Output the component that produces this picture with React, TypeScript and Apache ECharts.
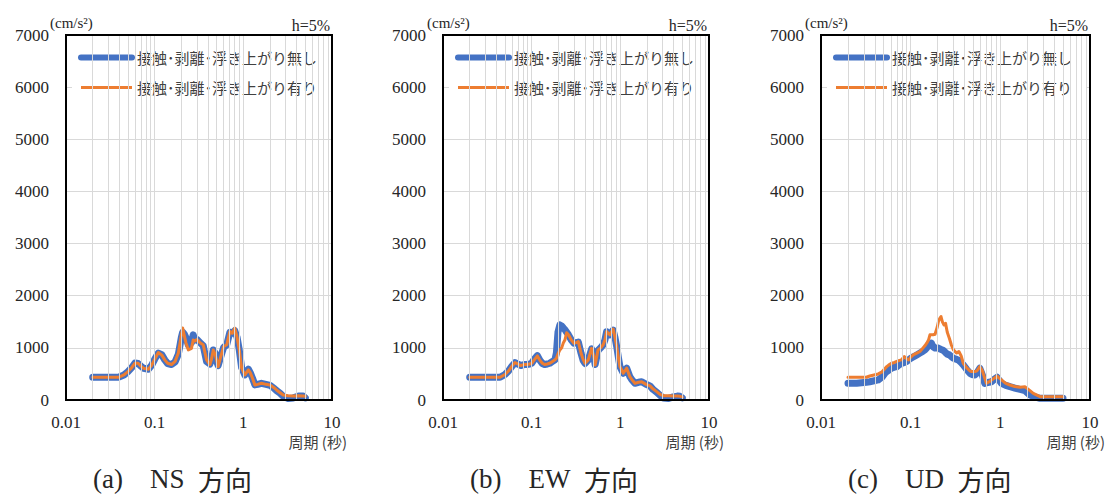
import React, { useEffect, useRef } from "react";
import * as echarts from "echarts";

const seriesNames = ["接触･剥離･浮き上がり無し", "接触･剥離･浮き上がり有り"];
const captionLatin = ["(a)\u3000NS  ", "(b)\u3000EW  ", "(c)\u3000UD  "];
const captionCJK = "方向";
const yUnit = "(cm/s²)";
const dampingLabel = "h=5%";
const xTitle = "周期 (秒)";

// NS direction
const nsPeriod = [
  0.02, 0.03, 0.039, 0.045, 0.05, 0.055, 0.06, 0.065, 0.07, 0.0745,
  0.08, 0.085, 0.092, 0.1, 0.11, 0.12, 0.13, 0.14, 0.155, 0.17,
  0.185, 0.193, 0.2, 0.207, 0.215, 0.225, 0.24, 0.26, 0.272, 0.285,
  0.3, 0.325, 0.353, 0.385, 0.42, 0.44, 0.458, 0.48, 0.5, 0.52,
  0.55, 0.6, 0.65, 0.706, 0.75, 0.8, 0.85, 0.9, 0.957, 1.04,
  1.14, 1.2, 1.27, 1.35, 1.45, 1.6, 1.8, 2.0, 2.2, 2.37,
  2.6, 2.82, 3.2, 3.66, 4.2, 4.73, 5.0,
];
const nsWith = [
  436, 436, 436, 480, 545, 620, 705, 705, 650, 610,
  600, 590, 660, 780, 910, 865, 770, 705, 680, 740,
  900, 1090, 1250, 1380, 1250, 1100, 960, 990, 1150, 1130,
  1160, 1100, 1060, 770, 680, 800, 960, 880, 770, 640,
  800, 1025, 1060, 1315, 1280, 1380, 1200, 960, 610, 480,
  577, 520, 417, 288, 300, 320, 300, 288, 240, 192,
  140, 96, 80, 77, 80, 77, 70,
];
const nsWithout = [
  436, 436, 436, 480, 545, 620, 710, 700, 650, 610,
  600, 590, 660, 780, 900, 870, 770, 700, 680, 730,
  880, 1050, 1200, 1300, 1270, 1200, 1050, 1100, 1250, 1150,
  1160, 1100, 1040, 740, 690, 800, 960, 900, 740, 660,
  800, 1010, 1060, 1300, 1280, 1330, 1200, 960, 620, 480,
  590, 520, 417, 290, 300, 320, 300, 280, 230, 180,
  130, 70, 30, 40, 75, 75, 40,
];

// EW direction
const ewPeriod = [
  0.02, 0.03, 0.044, 0.05, 0.055, 0.06, 0.065, 0.07, 0.075, 0.082,
  0.088, 0.095, 0.1, 0.108, 0.116, 0.124, 0.132, 0.14, 0.15, 0.16,
  0.172, 0.183, 0.19, 0.198, 0.208, 0.218, 0.228, 0.237, 0.248, 0.26,
  0.28, 0.3, 0.318, 0.336, 0.36, 0.38, 0.4, 0.435, 0.474, 0.5,
  0.52, 0.56, 0.6, 0.64, 0.67, 0.7, 0.76, 0.83, 0.87, 0.91,
  0.95, 0.99, 1.08, 1.18, 1.28, 1.35, 1.46, 1.6, 1.74, 1.95,
  2.16, 2.35, 2.57, 2.8, 3.05, 3.5, 3.95, 4.4, 4.7, 5.0,
];
const ewWith = [
  436, 436, 436, 490, 560, 650, 717, 690, 660, 680,
  680, 690, 705, 780, 846, 760, 705, 680, 690, 705,
  740, 770, 800, 880, 960, 1000, 1100, 1150, 1290, 1250,
  1150, 1090, 1100, 1120, 900, 780, 705, 770, 990, 850,
  673, 960, 1000, 1060, 1150, 1315, 1250, 1360, 1200, 1025,
  820, 640, 513, 610, 448, 390, 320, 340, 350, 300,
  270, 210, 160, 110, 83, 80, 77, 75, 70, 60,
];
const ewWithout = [
  436, 436, 436, 490, 560, 650, 717, 690, 660, 680,
  680, 690, 705, 790, 850, 760, 700, 680, 690, 705,
  740, 770, 900, 1300, 1440, 1420, 1380, 1350, 1300, 1250,
  1150, 1090, 1100, 1110, 900, 760, 700, 770, 980, 850,
  680, 950, 1000, 1060, 1150, 1310, 1250, 1340, 1200, 1025,
  820, 640, 513, 610, 448, 390, 320, 340, 350, 300,
  270, 200, 150, 90, 40, 30, 60, 75, 70, 40,
];

// UD direction
const udPeriod = [
  0.02, 0.025, 0.032, 0.035, 0.0435, 0.048, 0.052, 0.054, 0.058, 0.061,
  0.066, 0.07, 0.075, 0.079, 0.085, 0.09, 0.095, 0.1, 0.108, 0.117,
  0.127, 0.136, 0.144, 0.151, 0.158, 0.164, 0.17, 0.178, 0.187, 0.198,
  0.205, 0.212, 0.218, 0.226, 0.235, 0.245, 0.256, 0.27, 0.285, 0.3,
  0.326, 0.345, 0.365, 0.386, 0.42, 0.458, 0.479, 0.52, 0.55, 0.59,
  0.63, 0.67, 0.7, 0.75, 0.8, 0.86, 0.92, 0.97, 1.03, 1.15,
  1.28, 1.45, 1.66, 1.88, 2.14, 2.33, 2.77, 3.3, 3.9, 4.5, 5.0,
];
const udWith = [
  436, 436, 436, 460, 500, 540, 610, 640, 680, 705,
  720, 740, 760, 770, 833, 790, 770, 820, 870, 900,
  930, 990, 1040, 1090, 1150, 1250, 1250, 1250, 1260, 1400,
  1520, 1570, 1600, 1500, 1440, 1470, 1300, 1185, 1050, 960,
  900, 930, 850, 705, 620, 560, 545, 545, 560, 640,
  560, 420, 320, 350, 385, 420, 460, 420, 385, 320,
  288, 260, 245, 255, 180, 128, 64, 64, 64, 64, 64,
];
const udWithout = [
  320, 320, 340, 350, 385, 440, 520, 545, 580, 610,
  630, 640, 680, 700, 720, 737, 770, 800, 830, 865,
  900, 930, 960, 1000, 1040, 1060, 1090, 1020, 995, 1000,
  990, 980, 970, 960, 940, 910, 880, 865, 830, 800,
  780, 760, 720, 673, 590, 513, 490, 480, 520, 610,
  480, 320, 330, 340, 350, 400, 436, 380, 320, 280,
  255, 230, 205, 180, 96, 70, 32, 32, 32, 32, 32,
];

const charts = [
  { period: nsPeriod, without: nsWithout, withv: nsWith },
  { period: ewPeriod, without: ewWithout, withv: ewWith },
  { period: udPeriod, without: udWithout, withv: udWith },
];

const gridLefts = [66, 443, 821];
const gridWidths = [266, 266, 269];
const gridTop = 35;
const gridHeight = 365;

const BLUE = "#4472C4";
const ORANGE = "#ED7D31";
const GRID = "#d9d9d9";
const TEXT = "#262626";
const SERIF = "Liberation Serif";
const SANS_JP = "Noto Sans CJK JP";

function zip(xs: number[], ys: number[]) {
  const n = Math.min(xs.length, ys.length);
  const out: number[][] = [];
  for (let i = 0; i < n; i++) out.push([xs[i], ys[i]]);
  return out;
}

// log gridline positions (2..9 in each decade, plus inner decade lines)
const logGridValues: number[] = [];
[0.01, 0.1, 1].forEach((d) => {
  for (let m = 1; m <= 9; m++) {
    if (d === 0.01 && m === 1) continue;
    logGridValues.push(Number((d * m).toPrecision(3)));
  }
});

export default function App() {
  const ref = useRef<HTMLDivElement>(null);
  useEffect(() => {
    if (!ref.current) return;
    const chart = echarts.init(ref.current, undefined, { renderer: "svg" });

    const grid: any[] = [];
    const xAxis: any[] = [];
    const yAxis: any[] = [];
    const series: any[] = [];
    const legend: any[] = [];
    const graphic: any[] = [];

    charts.forEach((c, i) => {
      const left = gridLefts[i];
      const width = gridWidths[i];
      const right = left + width;
      const bottom = gridTop + gridHeight;
      grid.push({ left, top: gridTop, width, height: gridHeight });
      xAxis.push({
        type: "log",
        logBase: 10,
        gridIndex: i,
        position: "bottom",
        min: 0.01,
        max: 10,
        axisLine: { show: false },
        axisTick: { show: false },
        splitLine: { show: false },
        axisLabel: {
          color: TEXT,
          fontFamily: SERIF,
          fontSize: 17,
          margin: 14,
          formatter: (v: number) => {
            const e = Math.round(Math.log10(v));
            return e < 0 ? Math.pow(10, e).toFixed(-e) : String(Math.pow(10, e));
          },
        },
      });
      yAxis.push({
        type: "value",
        gridIndex: i,
        position: "left",
        min: 0,
        max: 7000,
        interval: 1000,
        axisLine: { show: false },
        axisTick: { show: false },
        splitLine: {
          show: true,
          showMinLine: false,
          showMaxLine: false,
          lineStyle: { color: GRID, width: 1 },
        },
        axisLabel: {
          color: TEXT,
          fontFamily: SERIF,
          fontSize: 17,
          margin: 17,
          formatter: (v: number) => String(v),
        },
      });
      series.push({
        type: "line",
        xAxisIndex: i,
        yAxisIndex: i,
        data: [[0.02, 0]],
        showSymbol: false,
        symbol: "none",
        silent: true,
        z: 1,
        lineStyle: { opacity: 0 },
        markLine: {
          silent: true,
          symbol: ["none", "none"],
          label: { show: false },
          lineStyle: { color: GRID, type: "solid", width: 1 },
          emphasis: { disabled: true },
          data: logGridValues.map((v) => ({ xAxis: v })),
        },
      });
      series.push({
        type: "line",
        name: seriesNames[0],
        xAxisIndex: i,
        yAxisIndex: i,
        data: zip(c.period, c.without),
        symbol: "none",
        showSymbol: false,
        z: 2,
        itemStyle: { color: BLUE },
        lineStyle: { color: BLUE, width: 7, cap: "round", join: "round" },
        emphasis: { disabled: true },
      });
      series.push({
        type: "line",
        name: seriesNames[1],
        xAxisIndex: i,
        yAxisIndex: i,
        data: zip(c.period, c.withv),
        symbol: "none",
        showSymbol: false,
        z: 3,
        itemStyle: { color: ORANGE },
        lineStyle: { color: ORANGE, width: 3, cap: "round", join: "round" },
        emphasis: { disabled: true },
      });
      legend.push({
        left: left + 6,
        top: 42,
        orient: "vertical",
        backgroundColor: "#fff",
        padding: [8, 14, 10, 6],
        itemGap: 15,
        itemWidth: 51,
        itemHeight: 14,
        selectedMode: false,
        textStyle: { fontFamily: SANS_JP, fontSize: 15, color: "#404040" },
        data: [
          {
            name: seriesNames[0],
            itemStyle: { opacity: 0 },
            lineStyle: { width: 6, cap: "round", color: BLUE, type: "solid" },
          },
          {
            name: seriesNames[1],
            itemStyle: { opacity: 0 },
            lineStyle: { width: 3, cap: "butt", color: ORANGE, type: "solid" },
          },
        ],
      });
      // plot frame as four filled bars
      const frame = [
        { x: left - 1, y: gridTop - 1, width: width + 2, height: 2 },
        { x: left - 1, y: bottom - 1, width: width + 2, height: 2 },
        { x: left - 1, y: gridTop - 1, width: 2, height: gridHeight + 2 },
        { x: right - 1, y: gridTop - 1, width: 2, height: gridHeight + 2 },
      ];
      frame.forEach((s) =>
        graphic.push({
          type: "rect",
          z: 100,
          silent: true,
          shape: s,
          style: { fill: "#000000" },
        })
      );
      graphic.push({
        type: "text",
        z: 100,
        x: left - 16,
        y: 23,
        style: {
          text: yUnit,
          fontFamily: SERIF,
          fontSize: 15,
          fill: TEXT,
          align: "left",
          verticalAlign: "middle",
        },
      });
      graphic.push({
        type: "text",
        z: 100,
        x: right - 2,
        y: 25,
        style: {
          text: dampingLabel,
          fontFamily: SERIF,
          fontSize: 16,
          fill: TEXT,
          align: "right",
          verticalAlign: "middle",
        },
      });
      graphic.push({
        type: "text",
        z: 100,
        x: right + 15,
        y: 441,
        style: {
          text: xTitle,
          fontFamily: SANS_JP,
          fontSize: 15,
          fill: "#404040",
          align: "right",
          verticalAlign: "middle",
        },
      });
      graphic.push({
        type: "text",
        z: 100,
        x: left + 27,
        y: 479,
        style: {
          text: "{a|" + captionLatin[i] + "}{b|" + captionCJK + "}",
          fill: "#262626",
          align: "left",
          verticalAlign: "middle",
          rich: {
            a: {
              fontFamily: SERIF,
              fontSize: 27,
              lineHeight: 28,
              verticalAlign: "middle",
              fill: "#262626",
            },
            b: {
              fontFamily: SANS_JP,
              fontSize: 27,
              lineHeight: 28,
              verticalAlign: "middle",
              fill: "#262626",
            },
          },
        },
      });
    });

    chart.setOption({
      animation: false,
      backgroundColor: "#fff",
      grid,
      xAxis,
      yAxis,
      series,
      legend,
      graphic,
    });
    return () => chart.dispose();
  }, []);
  return (
    <div
      ref={ref}
      style={{ position: "fixed", left: 0, top: 0, width: 1110, height: 497, background: "#fff" }}
    />
  );
}
